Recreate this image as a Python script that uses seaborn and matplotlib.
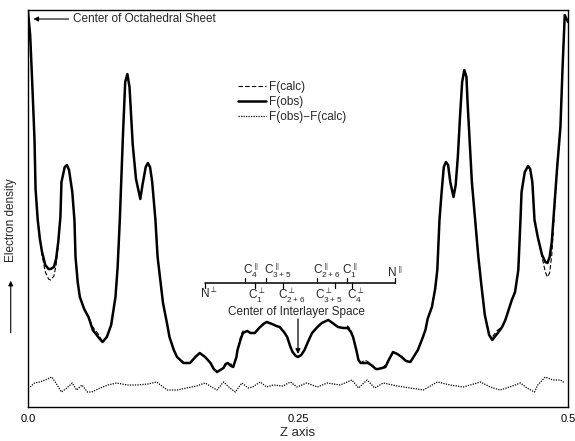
import pandas as pd
import seaborn as sns
import matplotlib.pyplot as plt

# ==========================================
# DATA (arbitrary density units)
# ==========================================

Z_GRID = [
    0.000, 0.002, 0.004, 0.006, 0.007, 0.009, 0.011, 0.013, 0.016, 0.019,
    0.021, 0.024, 0.026, 0.028, 0.030, 0.031, 0.034, 0.036, 0.038, 0.041,
    0.043, 0.044, 0.046, 0.048, 0.052, 0.056, 0.060, 0.065, 0.069, 0.073,
    0.077, 0.081, 0.083, 0.085, 0.088, 0.090, 0.092, 0.094, 0.095, 0.097,
    0.100, 0.104, 0.106, 0.109, 0.111, 0.113, 0.115, 0.118, 0.120, 0.125,
    0.129, 0.131, 0.135, 0.138, 0.144, 0.150, 0.155, 0.159, 0.164, 0.169,
    0.172, 0.175, 0.178, 0.181, 0.183, 0.185, 0.188, 0.190, 0.193, 0.194,
    0.197, 0.199, 0.203, 0.206, 0.210, 0.214, 0.218, 0.221, 0.226, 0.230,
    0.233, 0.237, 0.240, 0.243, 0.245, 0.248, 0.250, 0.253, 0.256, 0.260,
    0.263, 0.268, 0.272, 0.278, 0.282, 0.287, 0.292, 0.296, 0.299, 0.301,
    0.304, 0.306, 0.308, 0.312, 0.315, 0.319, 0.322, 0.324, 0.328, 0.331,
    0.334, 0.338, 0.342, 0.346, 0.350, 0.354, 0.357, 0.361, 0.365, 0.368,
    0.370, 0.374, 0.377, 0.379, 0.381, 0.383, 0.385, 0.387, 0.389, 0.391,
    0.394, 0.396, 0.398, 0.400, 0.402, 0.404, 0.406, 0.407, 0.409, 0.411,
    0.414, 0.417, 0.420, 0.423, 0.427, 0.430, 0.432, 0.435, 0.439, 0.442,
    0.445, 0.448, 0.451, 0.454, 0.456, 0.457, 0.460, 0.463, 0.465, 0.467,
    0.469, 0.472, 0.476, 0.479, 0.481, 0.483, 0.485, 0.487, 0.490, 0.493,
    0.495, 0.497, 0.500,
]

F_OBS = [
    395, 372, 322, 268, 218, 187, 168, 155, 142, 138,
    138, 140, 148, 165, 190, 225, 240, 242, 237, 215,
    187, 150, 125, 110, 98, 90, 77, 70, 65, 70,
    82, 110, 140, 187, 274, 325, 333, 320, 300, 262,
    228, 208, 222, 240, 244, 240, 225, 187, 150, 104,
    82, 70, 57, 50, 44, 44, 50, 54, 50, 44,
    38, 35, 37, 39, 43, 44, 41, 40, 50, 57,
    68, 74, 76, 74, 74, 79, 83, 85, 83, 81,
    80, 75, 70, 60, 55, 51, 50, 52, 57, 67,
    74, 80, 84, 87, 84, 80, 79, 79, 75, 70,
    57, 47, 44, 44, 44, 41, 38, 38, 39, 40,
    47, 55, 53, 50, 46, 45, 50, 57, 68, 77,
    88, 100, 118, 137, 187, 215, 240, 245, 242, 225,
    210, 222, 250, 290, 325, 337, 330, 305, 265, 225,
    187, 150, 120, 92, 72, 67, 70, 74, 80, 87,
    97, 107, 115, 137, 187, 215, 235, 241, 238, 225,
    187, 170, 152, 145, 144, 150, 165, 195, 240, 280,
    340, 392, 385,
]

F_CALC = [
    395, 372, 322, 268, 218, 187, 168, 152, 135, 128,
    127, 131, 142, 162, 190, 225, 240, 242, 237, 215,
    187, 150, 125, 110, 98, 90, 80, 73, 65, 70,
    82, 110, 140, 187, 274, 325, 333, 320, 300, 262,
    228, 208, 222, 240, 244, 240, 225, 187, 150, 104,
    82, 70, 57, 50, 44, 44, 50, 54, 50, 44,
    38, 35, 37, 39, 42, 42, 43, 40, 50, 57,
    71, 76, 76, 74, 74, 79, 83, 85, 83, 81,
    80, 75, 70, 60, 55, 51, 50, 52, 57, 67,
    74, 80, 84, 87, 84, 80, 79, 81, 77, 70,
    57, 47, 44, 47, 45, 41, 38, 38, 39, 42,
    47, 55, 53, 50, 46, 45, 50, 57, 68, 77,
    88, 100, 118, 137, 187, 215, 240, 245, 242, 225,
    210, 222, 250, 290, 325, 337, 330, 305, 265, 225,
    187, 150, 120, 92, 72, 70, 73, 77, 80, 87,
    97, 107, 115, 137, 187, 215, 235, 241, 238, 225,
    187, 170, 150, 135, 130, 134, 152, 188, 240, 280,
    340, 392, 385,
]

Z_DIFF = [
    0.002, 0.006, 0.011, 0.016, 0.022, 0.027, 0.031, 0.036, 0.041, 0.045,
    0.050, 0.055, 0.059, 0.067, 0.074, 0.082, 0.092, 0.101, 0.111, 0.119,
    0.129, 0.138, 0.147, 0.156, 0.164, 0.170, 0.175, 0.181, 0.187, 0.192,
    0.198, 0.204, 0.208, 0.215, 0.221, 0.227, 0.236, 0.243, 0.249, 0.258,
    0.268, 0.277, 0.289, 0.300, 0.306, 0.314, 0.321, 0.329, 0.342, 0.354,
    0.366, 0.379, 0.391, 0.403, 0.419, 0.428, 0.437, 0.446, 0.456, 0.462,
    0.469, 0.472, 0.479, 0.486, 0.493, 0.497,
]

F_DIFF = [
    20, 24, 25, 27, 30, 22, 15, 19, 24, 17,
    22, 15, 15, 19, 22, 24, 22, 22, 23, 25,
    17, 17, 19, 21, 24, 20, 17, 25, 19, 15,
    24, 19, 20, 25, 20, 22, 21, 25, 20, 24,
    20, 24, 22, 27, 19, 27, 19, 24, 21, 19,
    17, 25, 22, 20, 25, 20, 17, 20, 24, 19,
    15, 22, 30, 27, 27, 24,
]

# atomic positions marked on the scale bar
PAR_Z = [0.201, 0.220, 0.268, 0.295, 0.340]
PAR_LABELS = ["C_{4}", "C_{3+5}", "C_{2+6}", "C_{1}", "N"]
PERP_Z = [0.164, 0.210, 0.236, 0.284, 0.300]
PERP_LABELS = ["N", "C_{1}", "C_{2+6}", "C_{3+5}", "C_{4}"]

X_TICKS = [0.0, 0.25, 0.5]
X_TICK_LABELS = ["0.0", "0.25", "0.5"]

# ==========================================

sns.set_style("white")
plt.rcParams["font.family"] = ["Liberation Sans", "DejaVu Sans"]

fig = plt.figure(figsize=(5.75, 4.41), dpi=100)
ax = fig.add_axes([0.0487, 0.0771, 0.9391, 0.9002])

obs_df = pd.DataFrame({"z": Z_GRID, "obs": F_OBS, "calc": F_CALC})
diff_df = pd.DataFrame({"z": Z_DIFF, "diff": F_DIFF})

sns.lineplot(data=obs_df, x="z", y="calc", ax=ax, color="black", lw=0.8,
             linestyle=(0, (4, 2)), label="F(calc)", zorder=2)
sns.lineplot(data=obs_df, x="z", y="obs", ax=ax, color="black", lw=1.8,
             label="F(obs)", zorder=3)
sns.lineplot(data=diff_df, x="z", y="diff", ax=ax, color="black", lw=0.9,
             linestyle=(0, (1, 1)), label="F(obs)\u2212F(calc)", zorder=2)

ax.set_xlim(0, 0.5)
ax.set_ylim(0, 397)

for s in ax.spines.values():
    s.set_color("black")
    s.set_linewidth(1.0)

ax.set_xticks(X_TICKS)
ax.set_xticklabels(X_TICK_LABELS)
ax.set_yticks([])
ax.tick_params(axis="x", direction="in", length=5, width=1, pad=5,
               labelsize=8, colors="black")
ax.set_xlabel("Z axis", fontsize=9.5, labelpad=2)
ax.set_ylabel("")

ax.legend(loc="upper left", bbox_to_anchor=(0.389, 0.82), frameon=False,
          fontsize=8.5, handlelength=2.4, handletextpad=0.2,
          labelspacing=0.25, borderpad=0, borderaxespad=0)

# y axis label with arrow
ax.text(-0.032, 0.47, "Electron density", transform=ax.transAxes,
        rotation=90, ha="center", va="center", fontsize=8.5)
ax.annotate("", xy=(-0.032, 0.325), xytext=(-0.032, 0.18),
            xycoords="axes fraction", textcoords="axes fraction",
            annotation_clip=False,
            arrowprops=dict(arrowstyle="-|>", color="black", lw=0.8,
                            mutation_scale=7))

# annotations
ax.annotate("Center of Octahedral Sheet", xy=(0.005, 388), xytext=(0.042, 388),
            va="center", fontsize=8.5,
            arrowprops=dict(arrowstyle="-|>", color="black", lw=0.8,
                            mutation_scale=7, shrinkA=1, shrinkB=0))

ax.text(0.249, 95, "Center of Interlayer Space", ha="center", va="center",
        fontsize=8.5)
ax.annotate("", xy=(0.25, 53), xytext=(0.25, 88),
            arrowprops=dict(arrowstyle="-|>", color="black", lw=0.9,
                            mutation_scale=7, shrinkA=0, shrinkB=0))

# scale bar of atom positions; labels sit a little off their ticks as in the original
par_text_z = [0.206, 0.231, 0.277, 0.298, 0.340]
perp_text_z = [0.167, 0.212, 0.244, 0.278, 0.303]
bar_y = 124
ax.plot([PERP_Z[0], PAR_Z[-1]], [bar_y, bar_y], color="black", lw=1.1)
for z, tz, lab in zip(PAR_Z, par_text_z, PAR_LABELS):
    ax.plot([z, z], [bar_y, bar_y + 5], color="black", lw=0.9)
    ax.text(tz, bar_y + 3, r"$\mathregular{%s^{\parallel}}$" % lab,
            ha="center", va="bottom", fontsize=8.5)
for z, tz, lab in zip(PERP_Z, perp_text_z, PERP_LABELS):
    ax.plot([z, z], [bar_y, bar_y - 5], color="black", lw=0.9)
    ax.text(tz, bar_y - 3, r"$\mathregular{%s^{\perp}}$" % lab,
            ha="center", va="top", fontsize=8.5)

fig.savefig("out.png", dpi=100)
